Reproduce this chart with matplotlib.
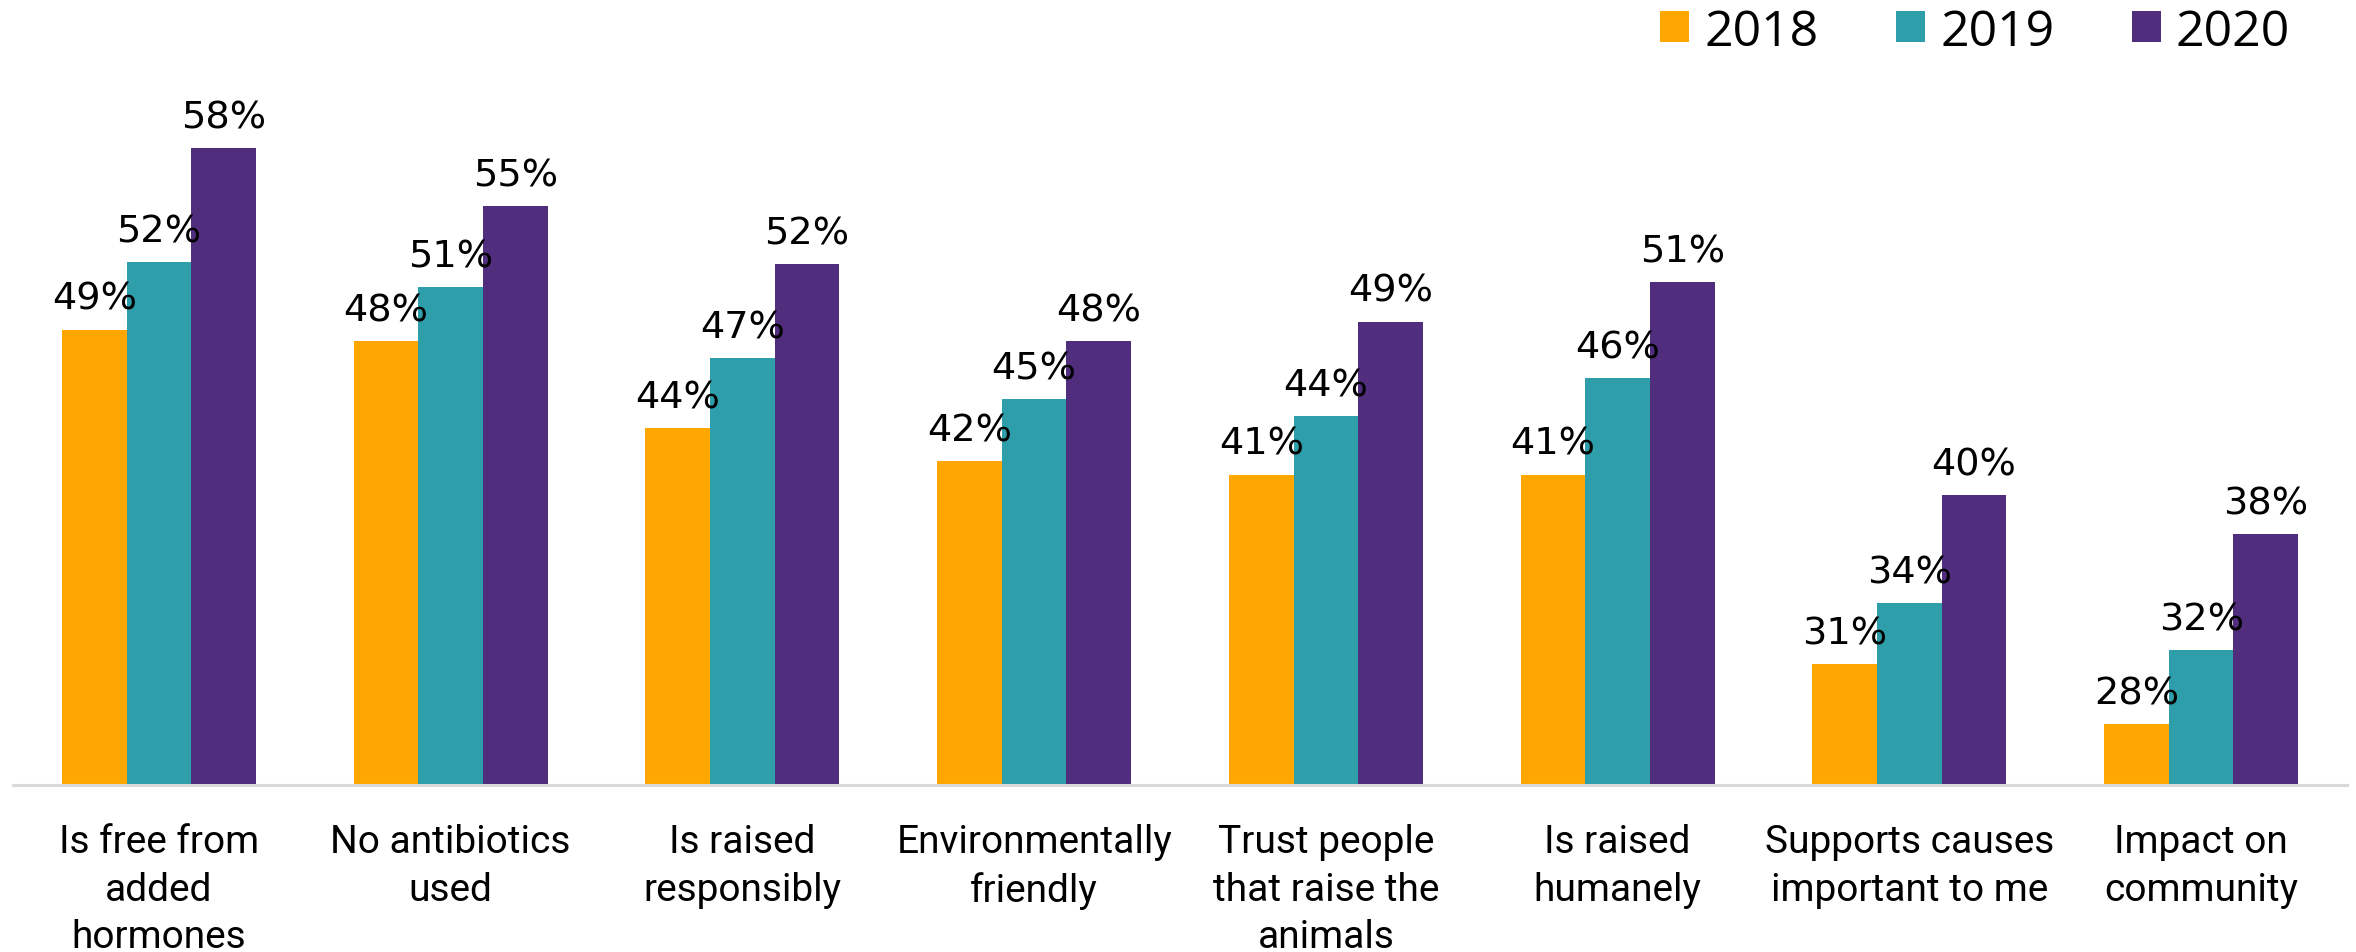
import matplotlib
matplotlib.use("Agg")
import matplotlib.pyplot as plt
from matplotlib.patches import Patch
import numpy as np

categories = ["Is free from\nadded\nhormones", "No antibiotics\nused", "Is raised\nresponsibly",
              "Environmentally\nfriendly", "Trust people\nthat raise the\nanimals", "Is raised\nhumanely",
              "Supports causes\nimportant to me", "Impact on\ncommunity"]
years = ["2018", "2019", "2020"]
# bar heights
v2018 = [48.54, 47.94, 43.42, 41.71, 40.99, 41.0, 31.14, 28.0]
v2019 = [52.07, 50.76, 47.07, 44.93, 44.03, 46.0, 34.31, 31.87]
v2020 = [58.0, 54.98, 51.96, 47.95, 48.96, 51.0, 39.92, 37.89]
# data labels as printed
l2018 = [49, 48, 44, 42, 41, 41, 31, 28]
l2019 = [52, 51, 47, 45, 44, 46, 34, 32]
l2020 = [58, 55, 52, 48, 49, 51, 40, 38]
series = [v2018, v2019, v2020]
labels = [l2018, l2019, l2020]
colors = ["#FFA600", "#2E9FAA", "#512D7E"]

W, H = 2356, 953
fig = plt.figure(figsize=(W / 100, H / 100), dpi=100)
left, right = 13, 2347
bottom, top = 786, 110.5
ax = fig.add_axes([left / W, (H - bottom) / H, (right - left) / W, (bottom - top) / H])

x = np.arange(len(categories))
bw = 0.2217
for i, (vals, labs, c) in enumerate(zip(series, labels, colors)):
    pos = x + (i - 1) * bw
    ax.bar(pos, vals, width=bw, color=c, zorder=2)
    for xx, v, lab in zip(pos, vals, labs):
        ax.annotate(f"{lab}%", (xx, v), xytext=(0, 15), textcoords="offset points",
                    ha="center", va="baseline", fontsize=27.5, family="DejaVu Sans", zorder=3)

ax.set_xlim(-0.5, len(categories) - 0.5)
ax.set_ylim(24.84, 60.0)
for s in ["top", "right", "left"]:
    ax.spines[s].set_visible(False)
ax.spines["bottom"].set_color("#D9D9D9")
ax.spines["bottom"].set_linewidth(2.2)
ax.set_yticks([])
ax.set_xticks(x)
ax.set_xticklabels(categories, fontsize=28, family=["DejaVu Sans Condensed", "Roboto"], linespacing=1.36)
ax.tick_params(axis="x", length=0, pad=27.5)

handles = [Patch(facecolor=c, edgecolor="none") for c in colors]
fig.legend(handles, years, loc="upper right", bbox_to_anchor=(2290 / W, 1 - 8 / H), ncol=3,
           frameon=False, prop={"family": "Open Sans", "size": 36},
           handlelength=0.58, handleheight=0.58, handletextpad=0.3, columnspacing=1.55,
           borderpad=0, borderaxespad=0)

fig.savefig("out.png", dpi=100)
